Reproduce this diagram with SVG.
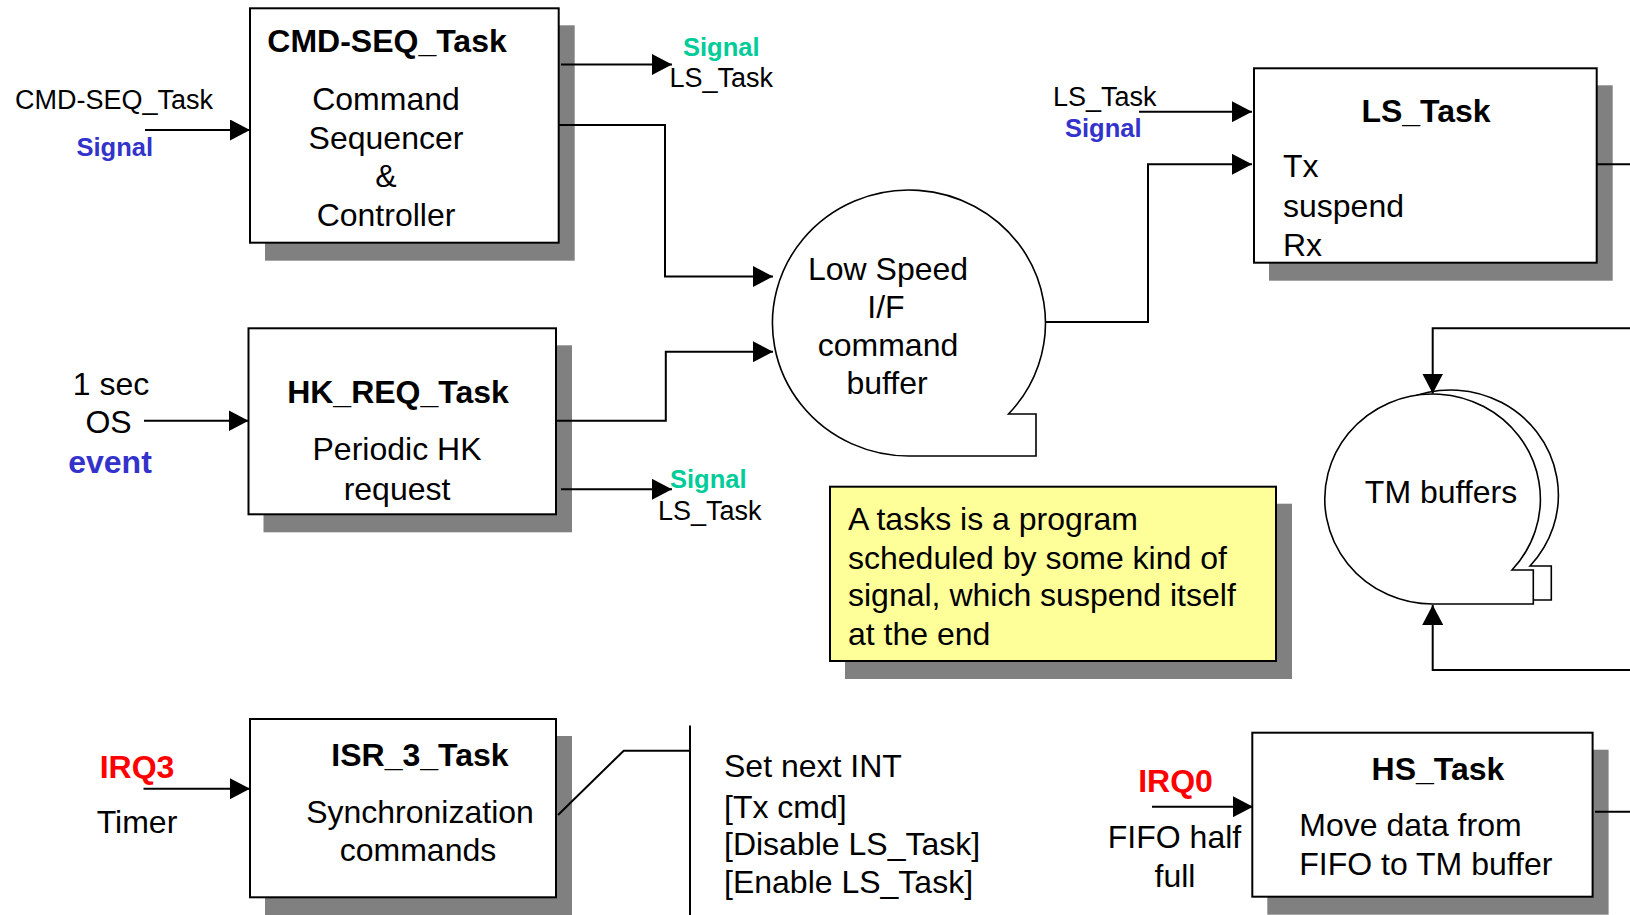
<svg xmlns="http://www.w3.org/2000/svg" width="1630" height="915" viewBox="0 0 1630 915">
  <defs>
    <style>
      .box { fill: #ffffff; stroke: #000000; stroke-width: 2; }
      .note { fill: #ffff99; stroke: #000000; stroke-width: 2; }
      .shadow { fill: #808080; }
      .store { fill: #ffffff; stroke: #000000; stroke-width: 1.6; }
      .wire { fill: none; stroke: #000000; stroke-width: 2; }
      .arrow { marker-end: url(#head); }
      text { font-family: "Liberation Sans", Arial, Helvetica, sans-serif; font-size: 32px; fill: #000000; }
      .title { font-weight: bold; }
      .small { font-size: 27px; }
      .sig { font-size: 25.5px; font-weight: bold; }
      .blue { fill: #3333cc; }
      .green { fill: #00cc99; }
      .red { fill: #ff0000; font-weight: bold; }
      .mid { text-anchor: middle; }
    </style>
    <marker id="head" markerUnits="userSpaceOnUse" markerWidth="20" markerHeight="21" refX="20" refY="10.5" orient="auto">
      <path d="M0,0 L20,10.5 L0,21 Z" fill="#000000"/>
    </marker>
  </defs>

  <!-- CMD-SEQ_Task -->
  <g id="cmd-seq-task">
    <rect class="shadow" x="265" y="25.3" width="309.7" height="235.4"/>
    <rect class="box" x="250" y="8.3" width="308.7" height="234.4"/>
    <text class="title mid" x="387" y="52">CMD-SEQ_Task</text>
    <text class="mid" x="386" y="110">Command</text>
    <text class="mid" x="386" y="148.5">Sequencer</text>
    <text class="mid" x="386" y="187">&amp;</text>
    <text class="mid" x="386" y="225.5">Controller</text>
  </g>
  <g id="cmd-seq-trigger">
    <text class="small" x="15" y="109">CMD-SEQ_Task</text>
    <text class="sig blue" x="76.5" y="156">Signal</text>
  </g>
  <g id="cmd-seq-signal-out">
    <text class="sig green" x="683" y="56">Signal</text>
    <text class="small" x="669.5" y="87">LS_Task</text>
  </g>

  <!-- HK_REQ_Task -->
  <g id="hk-req-task">
    <rect class="shadow" x="263.5" y="345.3" width="308.5" height="187"/>
    <rect class="box" x="248.5" y="328.3" width="307.5" height="186"/>
    <text class="title mid" x="398" y="403.3">HK_REQ_Task</text>
    <text class="mid" x="397" y="460.3">Periodic HK</text>
    <text class="mid" x="397" y="499.5">request</text>
  </g>
  <g id="hk-trigger">
    <text class="mid" x="111" y="395">1 sec</text>
    <text class="mid" x="108.5" y="433">OS</text>
    <text class="title blue mid" x="110" y="473">event</text>
  </g>
  <g id="hk-signal-out">
    <text class="sig green" x="670" y="487.5">Signal</text>
    <text class="small" x="658" y="520">LS_Task</text>
  </g>

  <!-- Low Speed I/F command buffer -->
  <g id="ls-command-buffer">
    <path class="store" d="M909,456 L1036,456 L1036,414 L1008.5,414 A136.5,133 0 1 0 909,456 Z"/>
    <text class="mid" x="888" y="280">Low Speed</text>
    <text class="mid" x="886" y="318">I/F</text>
    <text class="mid" x="888" y="356">command</text>
    <text class="mid" x="887" y="393.5">buffer</text>
  </g>

  <!-- LS_Task -->
  <g id="ls-task">
    <rect class="shadow" x="1269" y="85.3" width="343.7" height="195.4"/>
    <rect class="box" x="1254" y="68.3" width="342.7" height="194.4"/>
    <text class="title mid" x="1426" y="121.7">LS_Task</text>
    <text x="1283" y="176.7">Tx</text>
    <text x="1283" y="216.7">suspend</text>
    <text x="1283" y="256">Rx</text>
  </g>
  <g id="ls-trigger">
    <text class="small" x="1053" y="106">LS_Task</text>
    <text class="sig blue" x="1065" y="136.7">Signal</text>
  </g>

  <!-- note -->
  <g id="task-note">
    <rect class="shadow" x="845" y="503.7" width="447" height="175.3"/>
    <rect class="note" x="830" y="486.7" width="446" height="174.3"/>
    <text x="848" y="530">A tasks is a program</text>
    <text x="848" y="568.5">scheduled by some kind of</text>
    <text x="848" y="606">signal, which suspend itself</text>
    <text x="848" y="644.5">at the end</text>
  </g>

  <!-- TM buffers -->
  <g id="tm-buffers">
    <path class="store" d="M1450.8,600 L1551.3,600 L1551.3,566 L1530,566 A107.8,105 0 1 0 1450.8,600 Z"/>
    <path class="store" d="M1432.8,604 L1533.3,604 L1533.3,570 L1512,570 A107.8,105 0 1 0 1432.8,604 Z"/>
    <text class="mid" x="1441" y="503.3">TM buffers</text>
  </g>

  <!-- ISR_3_Task -->
  <g id="isr-3-task">
    <rect class="shadow" x="265" y="736" width="307" height="179.3"/>
    <rect class="box" x="250" y="719" width="306" height="178.3"/>
    <text class="title mid" x="420" y="766">ISR_3_Task</text>
    <text class="mid" x="420" y="823.3">Synchronization</text>
    <text class="mid" x="418" y="860.5">commands</text>
  </g>
  <g id="isr-trigger">
    <text class="red mid" x="137" y="778">IRQ3</text>
    <text class="mid" x="137" y="832.7">Timer</text>
  </g>
  <g id="isr-actions">
    <text x="724" y="776.7">Set next INT</text>
    <text x="724" y="817.7">[Tx cmd]</text>
    <text x="724" y="855">[Disable LS_Task]</text>
    <text x="724" y="892.7">[Enable LS_Task]</text>
  </g>

  <!-- HS_Task -->
  <g id="hs-task">
    <rect class="shadow" x="1267.3" y="749.7" width="341.3" height="165"/>
    <rect class="box" x="1252.3" y="732.7" width="340.3" height="164"/>
    <text class="title" x="1371.6" y="780">HS_Task</text>
    <text x="1299.3" y="836">Move data from</text>
    <text x="1299.3" y="875">FIFO to TM buffer</text>
  </g>
  <g id="hs-trigger">
    <text class="red mid" x="1175.5" y="792">IRQ0</text>
    <text class="mid" x="1174.5" y="848.3">FIFO half</text>
    <text class="mid" x="1175" y="886.5">full</text>
  </g>

  <!-- connectors, drawn over the node shadows -->
  <g id="connectors">
    <!-- CMD-SEQ_Task inputs/outputs -->
    <path class="wire arrow" d="M145,130 H250"/>
    <path class="wire arrow" d="M561,64.5 H672"/>
    <path class="wire arrow" d="M559,125 H665 V276.5 H773"/>
    <!-- HK_REQ_Task inputs/outputs -->
    <path class="wire arrow" d="M144,420.7 H248.5"/>
    <path class="wire arrow" d="M556,420.7 H665.8 V351.7 H773"/>
    <path class="wire arrow" d="M561,489.3 H672"/>
    <!-- command buffer to LS_Task -->
    <path class="wire arrow" d="M1045.5,322 H1148 V164.3 H1252"/>
    <path class="wire arrow" d="M1139,111.7 H1252"/>
    <path class="wire" d="M1597,164.3 H1630"/>
    <!-- TM buffers feeds -->
    <path class="wire arrow" d="M1630,328.3 H1432.7 V393.5"/>
    <path class="wire arrow" d="M1630,670 H1432.7 V605"/>
    <!-- ISR_3_Task -->
    <path class="wire arrow" d="M143.5,788.7 H250"/>
    <path class="wire" d="M558,815 L623.7,750.7 H690"/>
    <path class="wire" d="M690,725.6 V915"/>
    <!-- HS_Task -->
    <path class="wire arrow" d="M1152,806.7 H1253"/>
    <path class="wire" d="M1595,811.7 H1630"/>
  </g>
</svg>
